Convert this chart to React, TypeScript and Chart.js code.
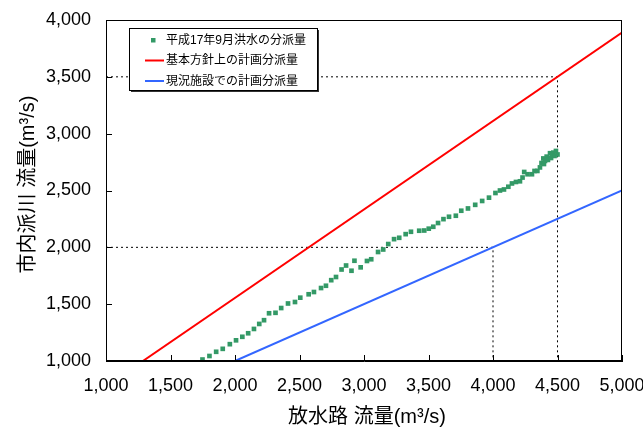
import React, { useEffect, useRef } from "react";
import { Chart, registerables } from "chart.js";

Chart.register(...registerables);

// ---- data ----
const floodX = [
  1748, 1802, 1854, 1905, 1960, 2008, 2057, 2102, 2147, 2188, 2225, 2264, 2314, 2358, 2411, 2465,
  2506, 2571, 2612, 2667, 2705, 2746, 2783, 2826, 2861, 2903, 2926, 2974, 3023, 3056, 3109, 3149,
  3188, 3233, 3273, 3323, 3364, 3428, 3467, 3502, 3537, 3574, 3616, 3659, 3712, 3754, 3806, 3862,
  3916, 3969, 4019, 4054, 4085, 4119, 4147, 4178, 4209, 4229, 4242, 4268, 4302, 4322, 4344, 4364,
  4376, 4390, 4395, 4403, 4416, 4426, 4442, 4450, 4457, 4468, 4477, 4488, 4500,
];
const floodY = [
  1013, 1044, 1081, 1107, 1148, 1182, 1213, 1244, 1282, 1326, 1359, 1420, 1424, 1466, 1506, 1519,
  1557, 1587, 1607, 1642, 1662, 1711, 1739, 1805, 1840, 1794, 1882, 1824, 1880, 1895, 1959, 1981,
  2029, 2072, 2084, 2116, 2137, 2146, 2148, 2164, 2181, 2214, 2248, 2269, 2278, 2322, 2342, 2374,
  2408, 2437, 2478, 2500, 2509, 2533, 2562, 2575, 2581, 2614, 2663, 2643, 2643, 2672, 2672, 2703,
  2742, 2782, 2733, 2760, 2798, 2769, 2828, 2786, 2812, 2833, 2804, 2848, 2817,
];
const planX = [1286, 5000];
const planY = [1000, 3889];
const currentX = [2000, 5000];
const currentY = [1000, 2500];
const guideAX = [1000, 4500, 4500];
const guideAY = [3500, 3500, 1000];
const guideBX = [1000, 4000, 4000];
const guideBY = [2000, 2000, 1000];

const seriesLabels = ["平成17年9月洪水の分派量", "基本方針上の計画分派量", "現況施設での計画分派量"];
const xTitle = "放水路 流量(m³/s)";
const yTitle = "市内派川 流量(m³/s)";
const xMin = 1000, xMax = 5000, xStep = 500;
const yMin = 1000, yMax = 4000, yStep = 500;

const GREEN = "#339966";
const RED = "#ff0000";
const BLUE = "#3366ff";
const FONT = "'Liberation Sans', Arial, 'Noto Sans CJK JP', sans-serif";
const CJKFONT = "'Liberation Sans', 'Noto Sans CJK JP', sans-serif";

const zip = (xs: number[], ys: number[]) => xs.map((x, i) => ({ x, y: ys[i] }));

const decorPlugin = {
  id: "decor",
  afterDraw(chart: any) {
    const { ctx, chartArea: a, scales } = chart;
    ctx.save();
    // frame
    ctx.strokeStyle = "#000";
    ctx.lineWidth = 1;
    ctx.strokeRect(Math.round(a.left) + 0.5, Math.round(a.top) + 0.5, Math.round(a.right - a.left) - 1, Math.round(a.bottom - a.top) - 1);
    // inward ticks
    ctx.beginPath();
    scales.x.ticks.forEach((t: any) => {
      const px = Math.round(scales.x.getPixelForValue(t.value)) + 0.5;
      ctx.moveTo(px, a.bottom);
      ctx.lineTo(px, a.bottom - 6);
    });
    scales.y.ticks.forEach((t: any) => {
      const py = Math.round(scales.y.getPixelForValue(t.value)) + 0.5;
      ctx.moveTo(a.left, py);
      ctx.lineTo(a.left + 6, py);
    });
    ctx.stroke();

    // axis titles
    ctx.fillStyle = "#000";
    ctx.font = "20px " + CJKFONT;
    ctx.textAlign = "center";
    ctx.textBaseline = "middle";
    ctx.fillText(xTitle, (a.left + a.right) / 2 + 3, 417);
    ctx.save();
    ctx.translate(28, (a.top + a.bottom) / 2 - 6);
    ctx.rotate(-Math.PI / 2);
    ctx.fillText(yTitle, 0, 0);
    ctx.restore();

    // legend
    const lx = a.left + 23, ly = a.top + 8, lw = 188, lh = 62;
    ctx.fillStyle = "#fff";
    ctx.fillRect(lx, ly, lw, lh);
    ctx.fillStyle = "#333";
    ctx.fillRect(lx + lw, ly + 2, 2, lh);
    ctx.fillRect(lx + 2, ly + lh, lw, 2);
    ctx.strokeStyle = "#000";
    ctx.lineWidth = 1;
    ctx.strokeRect(lx + 0.5, ly + 0.5, lw, lh);
    const rows = [ly + 12, ly + 32.5, ly + 53];
    ctx.font = "12px " + CJKFONT;
    ctx.textAlign = "left";
    ctx.textBaseline = "middle";
    rows.forEach((ry, i) => {
      const ds = chart.data.datasets[i];
      if (i === 0) {
        ctx.fillStyle = GREEN;
        ctx.fillRect(lx + 22, ry - 2, 4.5, 4.5);
      } else {
        ctx.strokeStyle = ds.borderColor;
        ctx.lineWidth = 2;
        ctx.beginPath();
        ctx.moveTo(lx + 16, ry);
        ctx.lineTo(lx + 35, ry);
        ctx.stroke();
      }
      ctx.fillStyle = "#000";
      ctx.fillText(ds.label, lx + 37, ry + 0.5);
    });
    ctx.restore();
  },
};

export default function App() {
  const ref = useRef<HTMLCanvasElement | null>(null);
  useEffect(() => {
    if (!ref.current) return;
    const chart = new Chart(ref.current, {
      type: "scatter",
      data: {
        datasets: [
          {
            label: seriesLabels[0],
            data: zip(floodX, floodY),
            backgroundColor: GREEN,
            borderColor: GREEN,
            pointStyle: "rect",
            pointRadius: 3.3,
            pointBorderWidth: 0,
            showLine: false,
          },
          {
            label: seriesLabels[1],
            data: zip(planX, planY),
            borderColor: RED,
            backgroundColor: RED,
            borderWidth: 2,
            pointRadius: 0,
            showLine: true,
          },
          {
            label: seriesLabels[2],
            data: zip(currentX, currentY),
            borderColor: BLUE,
            backgroundColor: BLUE,
            borderWidth: 2,
            pointRadius: 0,
            showLine: true,
          },
          {
            label: "guideA",
            data: zip(guideAX, guideAY),
            borderColor: "#000",
            borderWidth: 1,
            borderDash: [2, 3],
            pointRadius: 0,
            showLine: true,
          },
          {
            label: "guideB",
            data: zip(guideBX, guideBY),
            borderColor: "#000",
            borderWidth: 1,
            borderDash: [2, 3],
            pointRadius: 0,
            showLine: true,
          },
        ],
      },
      options: {
        animation: false,
        responsive: false,
        layout: { padding: { top: 20, right: 21, left: 0, bottom: 0 } },
        plugins: { legend: { display: false }, tooltip: { enabled: false } },
        scales: {
          x: {
            type: "linear",
            min: xMin,
            max: xMax,
            grid: { display: false, drawTicks: false },
            border: { display: true, color: "#000" },
            ticks: {
              stepSize: xStep,
              autoSkip: false,
              maxRotation: 0,
              padding: 14,
              color: "#000",
              font: { family: FONT, size: 18 },
              callback: (v: any) => Number(v).toLocaleString("en-US"),
            },
            afterFit: (s: any) => {
              s.height = 67;
              s.paddingLeft = 0;
              s.paddingRight = 0;
            },
          },
          y: {
            type: "linear",
            min: yMin,
            max: yMax,
            grid: { display: false, drawTicks: false },
            border: { display: true, color: "#000" },
            ticks: {
              stepSize: yStep,
              autoSkip: false,
              padding: 15,
              color: "#000",
              font: { family: FONT, size: 18 },
              callback: (v: any) => Number(v).toLocaleString("en-US"),
            },
            afterFit: (s: any) => {
              s.width = 106;
              s.paddingTop = 0;
              s.paddingBottom = 0;
            },
          },
        },
      },
      plugins: [decorPlugin],
    } as any);
    return () => chart.destroy();
  }, []);
  return (
    <div style={{ position: "absolute", left: 0, top: 0, width: 643, height: 428, background: "#fff" }}>
      <canvas ref={ref} width={643} height={428} style={{ width: 643, height: 428 }} />
    </div>
  );
}
